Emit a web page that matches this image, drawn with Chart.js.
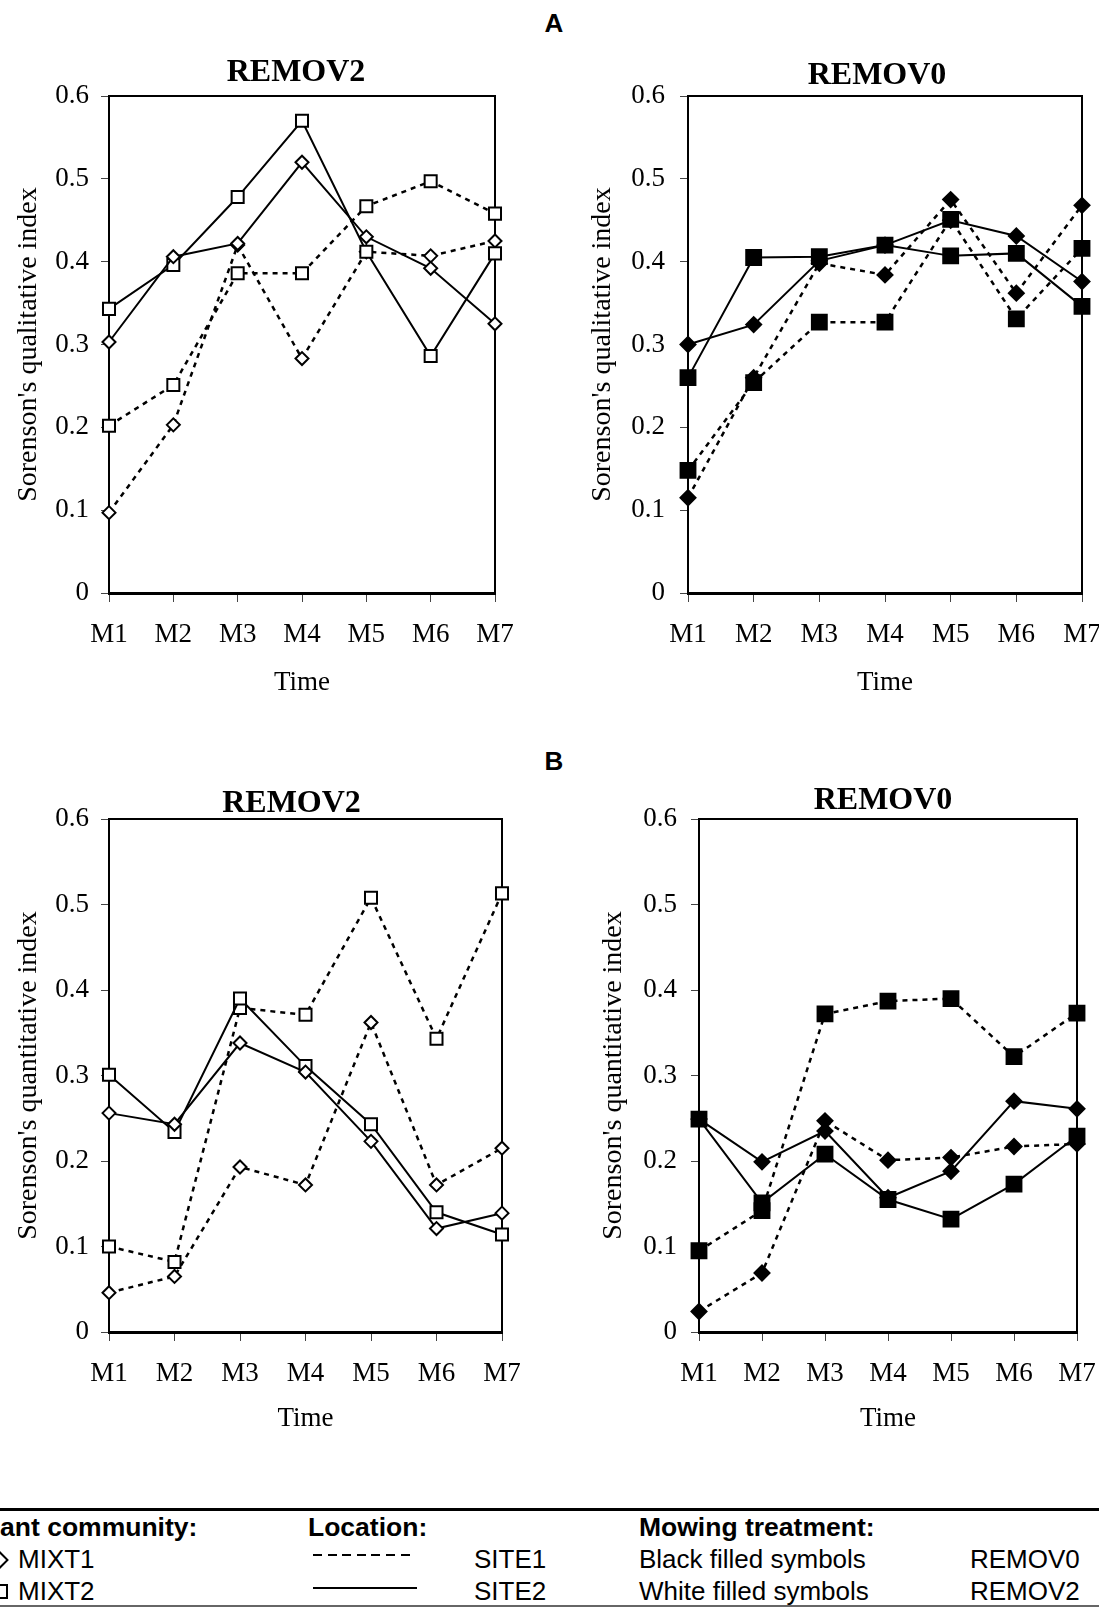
<!DOCTYPE html>
<html>
<head>
<meta charset="utf-8">
<script src="https://cdn.jsdelivr.net/npm/chart.js@4.4.0/dist/chart.umd.min.js"></script>
<style>
  html, body { margin: 0; padding: 0; background: #fff; }
  body { width: 1099px; height: 1608px; position: relative; overflow: hidden;
         font-family: "Liberation Sans", Arial, sans-serif; color: #000; }
  canvas { position: absolute; }
  .tag { position: absolute; font-weight: bold; font-size: 26px; line-height: 30px;
         transform: translate(-50%, -50%); }
  .lg { position: absolute; font-size: 26px; line-height: 32px; white-space: nowrap; }
  .hd { font-weight: bold; font-size: 26.5px; }
  .rule { position: absolute; left: 0; width: 1099px; background: #000; }
</style>
</head>
<body>

<div class="tag" style="left:554px;top:23px">A</div>
<div class="tag" style="left:554px;top:761px">B</div>

<canvas id="aRemov2" width="525" height="663" style="left:0;top:40px"></canvas>
<canvas id="aRemov0" width="539" height="663" style="left:560px;top:40px"></canvas>
<canvas id="bRemov2" width="532" height="668" style="left:0;top:770px"></canvas>
<canvas id="bRemov0" width="539" height="668" style="left:560px;top:770px"></canvas>

<!-- legend table under the four panels -->
<div class="rule" style="top:1508px;height:3px"></div>
<div class="lg hd" style="left:-25px;top:1511px">Plant community:</div>
<div class="lg hd" style="left:308px;top:1511px">Location:</div>
<div class="lg hd" style="left:639px;top:1511px">Mowing treatment:</div>

<div style="position:absolute;left:-8px;top:1553px;width:10px;height:10px;border:2px solid #000;transform:rotate(45deg)"></div>
<div class="lg" style="left:18px;top:1543px">MIXT1</div>
<div style="position:absolute;left:313px;top:1554px;width:102px;height:2px;background:repeating-linear-gradient(90deg,#000 0 9px,transparent 9px 14.6px)"></div>
<div class="lg" style="left:474px;top:1543px">SITE1</div>
<div class="lg" style="left:639px;top:1543px">Black filled symbols</div>
<div class="lg" style="left:970px;top:1543px">REMOV0</div>

<div style="position:absolute;left:-7px;top:1584px;width:11px;height:11px;border:2px solid #000"></div>
<div class="lg" style="left:18px;top:1575px">MIXT2</div>
<div style="position:absolute;left:313px;top:1587px;width:104px;height:2px;background:#000"></div>
<div class="lg" style="left:474px;top:1575px">SITE2</div>
<div class="lg" style="left:639px;top:1575px">White filled symbols</div>
<div class="lg" style="left:970px;top:1575px">REMOV2</div>
<div class="rule" style="top:1605px;height:2px;background:#666"></div>

<script>
const months = ['M1', 'M2', 'M3', 'M4', 'M5', 'M6', 'M7'];
const yTickLabels = ['0', '0.1', '0.2', '0.3', '0.4', '0.5', '0.6'];

// A: Sorenson's qualitative index
const qualRemov2Mixt1Site1 = [0.097, 0.203, 0.420, 0.283, 0.412, 0.407, 0.425];
const qualRemov2Mixt1Site2 = [0.303, 0.406, 0.422, 0.520, 0.430, 0.392, 0.325];
const qualRemov2Mixt2Site1 = [0.202, 0.251, 0.386, 0.386, 0.467, 0.497, 0.458];
const qualRemov2Mixt2Site2 = [0.343, 0.396, 0.478, 0.570, 0.412, 0.286, 0.410];

const qualRemov0Mixt1Site1 = [0.115, 0.260, 0.398, 0.384, 0.475, 0.362, 0.468];
const qualRemov0Mixt1Site2 = [0.300, 0.324, 0.401, 0.420, 0.450, 0.431, 0.376];
const qualRemov0Mixt2Site1 = [0.148, 0.254, 0.327, 0.327, 0.451, 0.331, 0.416];
const qualRemov0Mixt2Site2 = [0.260, 0.405, 0.406, 0.420, 0.407, 0.410, 0.346];

// B: Sorenson's quantitative index
const quantRemov2Mixt1Site1 = [0.046, 0.065, 0.193, 0.172, 0.362, 0.172, 0.215];
const quantRemov2Mixt1Site2 = [0.256, 0.243, 0.338, 0.304, 0.223, 0.121, 0.139];
const quantRemov2Mixt2Site1 = [0.100, 0.082, 0.379, 0.371, 0.508, 0.343, 0.513];
const quantRemov2Mixt2Site2 = [0.301, 0.234, 0.390, 0.311, 0.243, 0.140, 0.114];

const quantRemov0Mixt1Site1 = [0.024, 0.069, 0.247, 0.201, 0.204, 0.217, 0.220];
const quantRemov0Mixt1Site2 = [0.249, 0.199, 0.235, 0.157, 0.188, 0.270, 0.261];
const quantRemov0Mixt2Site1 = [0.095, 0.142, 0.372, 0.387, 0.390, 0.322, 0.373];
const quantRemov0Mixt2Site2 = [0.249, 0.151, 0.208, 0.155, 0.132, 0.173, 0.229];

const SERIF = "'Liberation Serif', 'Times New Roman', serif";

// box around the plot area
const frame = {
    id: 'frame',
    beforeDatasetsDraw(chart) {
        const { ctx, chartArea: a } = chart;
        ctx.save();
        ctx.strokeStyle = '#000';
        ctx.lineWidth = 2;
        ctx.strokeRect(a.left, a.top, a.right - a.left, a.bottom - a.top);
        ctx.restore();
    }
};

function series(label, data, shape, dashed, filled) {
    let r;
    if (shape === 'rect') r = filled ? 10.5 : 8.5;
    else r = filled ? 7.5 : 6.5;
    return {
        label: label,
        data: data,
        borderColor: '#000',
        borderWidth: dashed ? 2.5 : 2,
        borderDash: dashed ? [5, 5] : [],
        tension: 0,
        pointStyle: shape,
        pointRadius: r,
        pointBackgroundColor: filled ? '#000' : '#fff',
        pointBorderColor: '#000',
        pointBorderWidth: 2,
        clip: false
    };
}

function makePanel(id, title, yTitle, sets, filled, p) {
    // the original titles sit a little left of the plot centre
    const shiftTitle = {
        id: 'shiftTitle',
        afterLayout(chart) {
            const t = chart.titleBlock;
            if (t) { t.left += p.titleShift; t.right += p.titleShift; }
        }
    };
    new Chart(document.getElementById(id), {
        type: 'line',
        data: {
            labels: months,
            datasets: [
                series('MIXT1 SITE2', sets[1], 'rectRot', false, filled),
                series('MIXT2 SITE2', sets[3], 'rect', false, filled),
                series('MIXT1 SITE1', sets[0], 'rectRot', true, filled),
                series('MIXT2 SITE1', sets[2], 'rect', true, filled)
            ]
        },
        options: {
            responsive: false,
            animation: false,
            devicePixelRatio: 1,
            layout: { padding: { left: 0, right: p.padRight, top: 0, bottom: 0 } },
            plugins: {
                legend: { display: false },
                tooltip: { enabled: false },
                title: {
                    display: true,
                    text: title,
                    fullSize: false,
                    color: '#000',
                    font: { family: SERIF, size: 32, weight: 'bold', lineHeight: 0.9 },
                    padding: { top: p.titleTop, bottom: p.titleBottom }
                }
            },
            scales: {
                x: {
                    offset: false,
                    grid: { display: true, drawOnChartArea: false, tickLength: 9, tickColor: '#444', tickWidth: 1 },
                    border: { display: true, color: '#000', width: 3 },
                    ticks: { color: '#000', font: { family: SERIF, size: 27 }, padding: 17, maxRotation: 0, autoSkip: false },
                    title: { display: true, text: 'Time', color: '#000', font: { family: SERIF, size: 27 },
                             padding: { top: 0, bottom: p.xTitlePad } },
                    afterFit: s => { s.height = p.xHeight; s.paddingLeft = 0; s.paddingRight = 0; }
                },
                y: {
                    min: 0,
                    max: 0.6,
                    grid: { display: true, drawOnChartArea: false, tickLength: 8, tickColor: '#444', tickWidth: 1 },
                    border: { display: true, color: '#000', width: 2 },
                    ticks: { stepSize: 0.1, color: '#000', font: { family: SERIF, size: 27 }, padding: p.yTickPad,
                             callback: (v, i) => yTickLabels[i] },
                    title: { display: true, text: yTitle, color: '#000', font: { family: SERIF, size: 28 },
                             padding: { top: p.yTitlePad, bottom: 0 } },
                    afterFit: s => { s.width = p.yWidth; s.paddingTop = 0; s.paddingBottom = 0; }
                }
            }
        },
        plugins: [frame, shiftTitle]
    });
}

const QUAL = "Sorenson's qualitative index";
const QUANT = "Sorenson's quantitative index";

makePanel('aRemov2', 'REMOV2', QUAL,
    [qualRemov2Mixt1Site1, qualRemov2Mixt1Site2, qualRemov2Mixt2Site1, qualRemov2Mixt2Site2], false,
    { padRight: 30, yWidth: 109, xHeight: 110, titleTop: 18.6, titleBottom: 8.6, titleShift: -6,
      xTitlePad: 4, yTitlePad: 12, yTickPad: 12 });

makePanel('aRemov0', 'REMOV0', QUAL,
    [qualRemov0Mixt1Site1, qualRemov0Mixt1Site2, qualRemov0Mixt2Site1, qualRemov0Mixt2Site2], true,
    { padRight: 17, yWidth: 128, xHeight: 110, titleTop: 21.6, titleBottom: 5.6, titleShift: -8,
      xTitlePad: 4, yTitlePad: 26, yTickPad: 15 });

makePanel('bRemov2', 'REMOV2', QUANT,
    [quantRemov2Mixt1Site1, quantRemov2Mixt1Site2, quantRemov2Mixt2Site1, quantRemov2Mixt2Site2], false,
    { padRight: 30, yWidth: 109, xHeight: 106, titleTop: 19.6, titleBottom: 0.6, titleShift: -14,
      xTitlePad: 3, yTitlePad: 12, yTickPad: 12 });

makePanel('bRemov0', 'REMOV0', QUANT,
    [quantRemov0Mixt1Site1, quantRemov0Mixt1Site2, quantRemov0Mixt2Site1, quantRemov0Mixt2Site2], true,
    { padRight: 22, yWidth: 139, xHeight: 106, titleTop: 16.6, titleBottom: 3.6, titleShift: -5,
      xTitlePad: 3, yTitlePad: 37, yTickPad: 14 });
</script>
</body>
</html>
